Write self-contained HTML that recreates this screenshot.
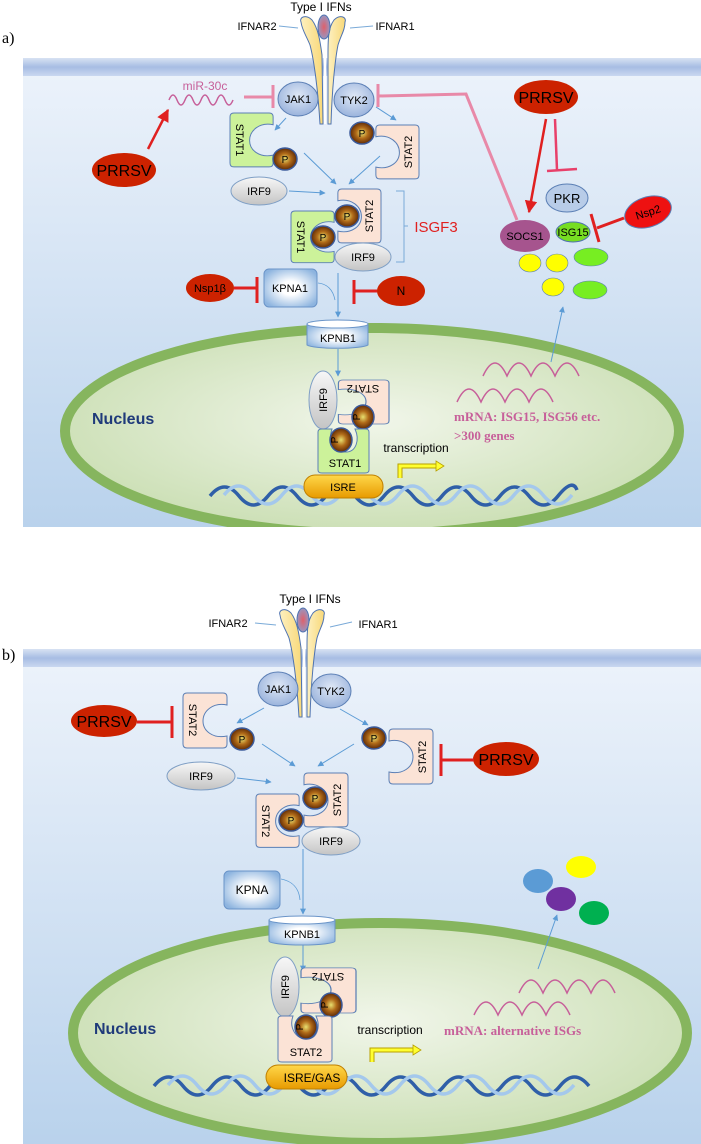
<!DOCTYPE html>
<html><head><meta charset="utf-8"><style>
html,body{margin:0;padding:0;background:#fff}
svg{display:block}
text{font-family:"Liberation Sans",sans-serif}
</style></head><body>
<svg width="701" height="1144" viewBox="0 0 701 1144" xmlns="http://www.w3.org/2000/svg">
<defs>
<linearGradient id="cell" x1="0" y1="0" x2="0" y2="1"><stop offset="0" stop-color="#edf3fb"/><stop offset="1" stop-color="#b9d2ec"/></linearGradient>
<linearGradient id="mem" x1="0" y1="0" x2="0" y2="1"><stop offset="0" stop-color="#d8e2f3"/><stop offset="0.5" stop-color="#a7bde3"/><stop offset="1" stop-color="#c9d8f0"/></linearGradient>
<radialGradient id="nuc" cx="0.5" cy="0.45" r="0.6"><stop offset="0" stop-color="#f1f6ea"/><stop offset="1" stop-color="#c8ddb0"/></radialGradient>
<radialGradient id="pg" cx="0.5" cy="0.5" r="0.5"><stop offset="0" stop-color="#e8e070"/><stop offset="0.5" stop-color="#b06a18"/><stop offset="1" stop-color="#5e2a06"/></radialGradient>
<radialGradient id="jak" cx="0.5" cy="0.4" r="0.6"><stop offset="0" stop-color="#dfe8f6"/><stop offset="1" stop-color="#9ab3dc"/></radialGradient>
<linearGradient id="irf" x1="0" y1="0" x2="0" y2="1"><stop offset="0" stop-color="#f7f7f7"/><stop offset="1" stop-color="#c4c4c4"/></linearGradient>
<radialGradient id="kp" cx="0.5" cy="0.5" r="0.6"><stop offset="0.3" stop-color="#fff"/><stop offset="1" stop-color="#8db4df"/></radialGradient>
<linearGradient id="isre" x1="0" y1="0" x2="0" y2="1"><stop offset="0" stop-color="#ffd84a"/><stop offset="1" stop-color="#e89a00"/></linearGradient>
<linearGradient id="rec" x1="0" y1="0" x2="1" y2="0"><stop offset="0" stop-color="#fdf0c0"/><stop offset="1" stop-color="#f8d878"/></linearGradient>
<radialGradient id="ifn" cx="0.5" cy="0.5" r="0.6"><stop offset="0" stop-color="#e0606a"/><stop offset="1" stop-color="#8aa0d0"/></radialGradient>
<marker id="ab" viewBox="0 0 10 10" refX="9" refY="5" markerWidth="6" markerHeight="6" orient="auto"><path d="M0,0L10,5L0,10z" fill="#5b9bd5"/></marker>
<marker id="ar" viewBox="0 0 10 10" refX="9" refY="5" markerWidth="5" markerHeight="5" orient="auto"><path d="M0,0L10,5L0,10z" fill="#e02020"/></marker>
<path id="stat" d="M0,4Q0,0 4,0H40Q44,0 44,4V12C30,9 20,18 20,28C20,38 30,46 44,43V51Q44,55 40,55H4Q0,55 0,51Z"/>
</defs>

<!-- ===== PANEL A ===== -->
<text x="2" y="43" font-size="16" style="font-family:'Liberation Serif',serif">a)</text>
<rect x="23" y="58" width="678" height="469" fill="url(#cell)"/>
<rect x="23" y="58" width="678" height="18" fill="url(#mem)"/>
<ellipse cx="372" cy="431" rx="307" ry="103" fill="url(#nuc)" stroke="#86b55e" stroke-width="10"/>
<rect x="23" y="527" width="678" height="40" fill="#fff"/>

<g>
<path d="M301,22C299,17 306,14 312,20C318,28 320,40 322,55L323,124L320,124C318,90 314,60 310,45C306,35 302,30 301,22Z" fill="url(#rec)" stroke="#4f73b0" stroke-width="1"/>
<path d="M345,22C347,17 340,14 334,20C328,28 328,40 328,55L328,124L331,124C332,90 335,60 338,45C341,35 345,30 345,22Z" fill="url(#rec)" stroke="#4f73b0" stroke-width="1"/>
<ellipse cx="324" cy="27" rx="6" ry="12" fill="url(#ifn)" stroke="#4f73b0"/>
<line x1="325" y1="40" x2="325" y2="124" stroke="#fff" stroke-width="2"/>
</g>
<text x="321" y="11" font-size="12" text-anchor="middle">Type I IFNs</text>
<text x="257" y="30" font-size="11" text-anchor="middle">IFNAR2</text>
<text x="395" y="30" font-size="11" text-anchor="middle">IFNAR1</text>
<line x1="279" y1="26" x2="298" y2="28" stroke="#7aaad8"/>
<line x1="350" y1="28" x2="373" y2="26" stroke="#7aaad8"/>

<ellipse cx="298" cy="99" rx="20" ry="17" fill="url(#jak)" stroke="#5b7fb5"/>
<text x="298" y="103" font-size="11" text-anchor="middle">JAK1</text>
<ellipse cx="354" cy="100" rx="20" ry="17" fill="url(#jak)" stroke="#5b7fb5"/>
<text x="354" y="104" font-size="11" text-anchor="middle">TYK2</text>

<text x="205" y="90" font-size="12" fill="#c7609a" text-anchor="middle">miR-30c</text>
<path d="M169,100q4,-10 8,0t8,0t8,0t8,0t8,0t8,0t8,0t8,0" fill="none" stroke="#c7609a" stroke-width="1.5"/>
<line x1="244" y1="97" x2="272" y2="97" stroke="#e889a8" stroke-width="3"/>
<line x1="273" y1="85" x2="273" y2="108" stroke="#e889a8" stroke-width="3"/>
<polyline points="517,220 466,94 379,96" fill="none" stroke="#e889a8" stroke-width="3"/>
<line x1="378" y1="84" x2="378" y2="107" stroke="#e889a8" stroke-width="3"/>

<ellipse cx="124" cy="170" rx="32" ry="17" fill="#cc2200"/>
<text x="124" y="176" font-size="16" text-anchor="middle">PRRSV</text>
<line x1="148" y1="149" x2="168" y2="110" stroke="#e02020" stroke-width="2.5" marker-end="url(#ar)"/>

<use href="#stat" transform="translate(230,113) scale(0.98,0.98)" fill="#ccf29a" stroke="#5b7fb5"/>
<text transform="translate(236,140) rotate(90)" font-size="11" text-anchor="middle">STAT1</text>
<ellipse cx="285" cy="159" rx="12" ry="11" fill="url(#pg)" stroke="#3b5a9a" stroke-width="1.5"/><text x="285" y="163" font-size="10" text-anchor="middle">P</text>
<use href="#stat" transform="translate(419,125) scale(-0.98,0.98)" fill="#fbe3d6" stroke="#5b7fb5"/>
<text transform="translate(412,152) rotate(-90)" font-size="11" text-anchor="middle">STAT2</text>
<ellipse cx="362" cy="133" rx="12" ry="11" fill="url(#pg)" stroke="#3b5a9a" stroke-width="1.5"/><text x="362" y="137" font-size="10" text-anchor="middle">P</text>

<g stroke="#5b9bd5" stroke-width="1" marker-end="url(#ab)">
<line x1="286" y1="118" x2="275" y2="130"/>
<line x1="376" y1="107" x2="396" y2="120"/>
<line x1="304" y1="153" x2="336" y2="184"/>
<line x1="380" y1="156" x2="349" y2="184"/>
<line x1="289" y1="191" x2="325" y2="193"/>
<line x1="338" y1="273" x2="338" y2="317"/>
<line x1="338" y1="349" x2="338" y2="376"/>
<line x1="551" y1="362" x2="563" y2="307"/>
</g>
<path d="M318,283C328,284 333,290 335,300" fill="none" stroke="#5b9bd5" stroke-width="0.8"/>

<ellipse cx="259" cy="191" rx="28" ry="14" fill="url(#irf)" stroke="#7f9fc5"/>
<text x="259" y="195" font-size="11" text-anchor="middle">IRF9</text>

<use href="#stat" transform="translate(381,189) scale(-0.98,0.98)" fill="#fbe3d6" stroke="#5b7fb5"/>
<text transform="translate(373,216) rotate(-90)" font-size="11" text-anchor="middle">STAT2</text>
<use href="#stat" transform="translate(291,211) scale(0.98,0.94)" fill="#ccf29a" stroke="#5b7fb5"/>
<text transform="translate(297,237) rotate(90)" font-size="11" text-anchor="middle">STAT1</text>
<ellipse cx="347" cy="216" rx="12" ry="11" fill="url(#pg)" stroke="#3b5a9a" stroke-width="1.5"/><text x="347" y="220" font-size="10" text-anchor="middle">P</text>
<ellipse cx="323" cy="237" rx="12" ry="11" fill="url(#pg)" stroke="#3b5a9a" stroke-width="1.5"/><text x="323" y="241" font-size="10" text-anchor="middle">P</text>
<ellipse cx="363" cy="257" rx="28" ry="14" fill="url(#irf)" stroke="#7f9fc5"/>
<text x="363" y="261" font-size="11" text-anchor="middle">IRF9</text>
<path d="M396,191H404V262H396M404,226H408" fill="none" stroke="#7aaad8"/>
<text x="436" y="232" font-size="15" fill="#e02020" text-anchor="middle">ISGF3</text>

<rect x="264" y="269" width="53" height="38" rx="5" fill="url(#kp)" stroke="#6a94c8"/>
<text x="290" y="292" font-size="11" text-anchor="middle">KPNA1</text>
<ellipse cx="210" cy="288" rx="24" ry="14" fill="#cc2200"/>
<text x="210" y="292" font-size="11" text-anchor="middle">Nsp1β</text>
<line x1="234" y1="288" x2="257" y2="288" stroke="#e02020" stroke-width="3"/>
<line x1="257" y1="277" x2="257" y2="303" stroke="#e02020" stroke-width="3"/>
<ellipse cx="401" cy="291" rx="24" ry="15" fill="#cc2200"/>
<text x="401" y="295" font-size="12" text-anchor="middle">N</text>
<line x1="354" y1="291" x2="377" y2="291" stroke="#e02020" stroke-width="3"/>
<line x1="354" y1="280" x2="354" y2="304" stroke="#e02020" stroke-width="3"/>

<path d="M307,324V345A31,4 0 0 0 368,345V324" fill="url(#kp)" stroke="#6a94c8"/>
<ellipse cx="337.5" cy="324" rx="30.5" ry="4" fill="#fff" stroke="#6a94c8"/>
<text x="338" y="342" font-size="11" text-anchor="middle">KPNB1</text>

<ellipse cx="323" cy="400" rx="14" ry="29" fill="url(#irf)" stroke="#7f9fc5"/>
<text transform="translate(327,400) rotate(-90)" font-size="11" text-anchor="middle">IRF9</text>
<use href="#stat" transform="translate(389,424) rotate(180) scale(1.15,0.8)" fill="#fbe3d6" stroke="#5b7fb5"/>
<text transform="translate(363,385) rotate(180)" font-size="11" text-anchor="middle">STAT2</text>
<ellipse cx="363" cy="417" rx="11" ry="12" fill="url(#pg)" stroke="#3b5a9a" stroke-width="1.5"/><text transform="translate(360,417) rotate(-90)" font-size="10" text-anchor="middle">P</text>
<path d="M318,432Q318,429 322,429H332C328,440 334,452 346,452C356,452 360,440 355,429H365Q369,429 369,432V470Q369,473 365,473H322Q318,473 318,470Z" fill="#ccf29a" stroke="#5b7fb5"/>
<ellipse cx="341" cy="440" rx="11" ry="12" fill="url(#pg)" stroke="#3b5a9a" stroke-width="1.5"/><text transform="translate(338,440) rotate(-90)" font-size="10" text-anchor="middle">P</text>
<text x="345" y="467" font-size="11" text-anchor="middle">STAT1</text>

<path d="M210,496q14.5,-18 29,0t29,0t29,0t29,0t29,0t29,0t29,0t29,0t29,0t29,0t29,0t29,0t19,-6" fill="none" stroke="#2f5fa8" stroke-width="3.5"/>
<path d="M224,495q14.5,-18 29,0t29,0t29,0t29,0t29,0t29,0t29,0t29,0t29,0t29,0t29,0t29,0" fill="none" stroke="#a4c8ec" stroke-width="3.5"/>
<rect x="304" y="475" width="79" height="23" rx="11" fill="url(#isre)" stroke="#c08000"/>
<text x="343" y="491" font-size="11" text-anchor="middle">ISRE</text>
<text x="416" y="452" font-size="12" text-anchor="middle">transcription</text>
<path d="M400,478V466H436" fill="none" stroke="#b8a000" stroke-width="5"/>
<path d="M400,478V466H436" fill="none" stroke="#ffff30" stroke-width="3"/>
<path d="M436,461L444,466L436,471Z" fill="#ffff30" stroke="#b8a000" stroke-width="0.8"/>

<path d="M483,376q12,-26 24,0q12,-26 24,0q12,-26 24,0q12,-26 24,0" fill="none" stroke="#c7609a" stroke-width="1.5"/>
<path d="M457,402q12,-26 24,0q12,-26 24,0q12,-26 24,0q12,-26 24,0" fill="none" stroke="#c7609a" stroke-width="1.5"/>
<text x="454" y="421" font-size="13" font-weight="bold" fill="#c7609a" style="font-family:'Liberation Serif',serif">mRNA: ISG15, ISG56 etc.</text>
<text x="454" y="440" font-size="13" font-weight="bold" fill="#c7609a" style="font-family:'Liberation Serif',serif">&gt;300 genes</text>
<text x="92" y="424" font-size="16" font-weight="bold" fill="#1f3a7a">Nucleus</text>

<ellipse cx="546" cy="97" rx="32" ry="17" fill="#cc2200"/>
<text x="546" y="103" font-size="16" text-anchor="middle">PRRSV</text>
<line x1="546" y1="119" x2="529" y2="212" stroke="#e02020" stroke-width="2.5" marker-end="url(#ar)"/>
<line x1="555" y1="119" x2="557" y2="170" stroke="#e8406a" stroke-width="2.5"/>
<line x1="547" y1="171" x2="577" y2="169" stroke="#e8406a" stroke-width="2.5"/>
<ellipse cx="567" cy="198" rx="21" ry="14" fill="#b8cce8" stroke="#5b7fb5"/>
<text x="567" y="203" font-size="13" text-anchor="middle">PKR</text>
<ellipse cx="525" cy="236" rx="25" ry="16" fill="#a6548e"/>
<text x="525" y="240" font-size="11" text-anchor="middle">SOCS1</text>
<ellipse cx="573" cy="232" rx="17" ry="10" fill="#77dd22" stroke="#4f73b0"/>
<text x="573" y="236" font-size="11" text-anchor="middle">ISG15</text>
<ellipse cx="648" cy="212" rx="24" ry="15" fill="#ee1111" stroke="#5b7fb5" transform="rotate(-18 648 212)"/>
<text x="648" y="216" font-size="11" text-anchor="middle" transform="rotate(-18 648 212)">Nsp2</text>
<line x1="624" y1="218" x2="597" y2="228" stroke="#e02020" stroke-width="3"/>
<line x1="591" y1="214" x2="599" y2="242" stroke="#e02020" stroke-width="3"/>
<g fill="#ffff00" stroke="#5b7fb5" stroke-width="0.6">
<ellipse cx="530" cy="263" rx="11" ry="9"/><ellipse cx="557" cy="263" rx="11" ry="9"/><ellipse cx="553" cy="287" rx="11" ry="9"/>
</g>
<g fill="#77ee22" stroke="#5b7fb5" stroke-width="0.6">
<ellipse cx="591" cy="257" rx="17" ry="9"/><ellipse cx="590" cy="290" rx="17" ry="9"/>
</g>

<!-- ===== PANEL B ===== -->
<text x="2" y="660" font-size="16" style="font-family:'Liberation Serif',serif">b)</text>
<rect x="23" y="649" width="678" height="495" fill="url(#cell)"/>
<rect x="23" y="649" width="678" height="18" fill="url(#mem)"/>
<ellipse cx="380" cy="1033" rx="307" ry="110" fill="url(#nuc)" stroke="#86b55e" stroke-width="10"/>

<g transform="translate(-21,593)">
<path d="M301,22C299,17 306,14 312,20C318,28 320,40 322,55L323,124L320,124C318,90 314,60 310,45C306,35 302,30 301,22Z" fill="url(#rec)" stroke="#4f73b0" stroke-width="1"/>
<path d="M345,22C347,17 340,14 334,20C328,28 328,40 328,55L328,124L331,124C332,90 335,60 338,45C341,35 345,30 345,22Z" fill="url(#rec)" stroke="#4f73b0" stroke-width="1"/>
<ellipse cx="324" cy="27" rx="6" ry="12" fill="url(#ifn)" stroke="#4f73b0"/>
<line x1="325" y1="40" x2="325" y2="124" stroke="#fff" stroke-width="2"/>
</g>
<text x="310" y="603" font-size="12" text-anchor="middle">Type I IFNs</text>
<text x="228" y="627" font-size="11" text-anchor="middle">IFNAR2</text>
<text x="378" y="628" font-size="11" text-anchor="middle">IFNAR1</text>
<line x1="255" y1="623" x2="276" y2="625" stroke="#7aaad8"/>
<line x1="330" y1="627" x2="352" y2="622" stroke="#7aaad8"/>

<ellipse cx="278" cy="689" rx="20" ry="17" fill="url(#jak)" stroke="#5b7fb5"/>
<text x="278" y="693" font-size="11" text-anchor="middle">JAK1</text>
<ellipse cx="331" cy="691" rx="20" ry="17" fill="url(#jak)" stroke="#5b7fb5"/>
<text x="331" y="695" font-size="11" text-anchor="middle">TYK2</text>

<use href="#stat" transform="translate(183,693)" fill="#fbe3d6" stroke="#5b7fb5"/>
<text transform="translate(189,720) rotate(90)" font-size="11" text-anchor="middle">STAT2</text>
<ellipse cx="242" cy="739" rx="12" ry="11" fill="url(#pg)" stroke="#3b5a9a" stroke-width="1.5"/><text x="242" y="743" font-size="10" text-anchor="middle">P</text>
<ellipse cx="104" cy="721" rx="33" ry="16" fill="#cc2200"/>
<text x="104" y="727" font-size="16" text-anchor="middle">PRRSV</text>
<line x1="137" y1="722" x2="172" y2="722" stroke="#e02020" stroke-width="3"/>
<line x1="172" y1="706" x2="172" y2="738" stroke="#e02020" stroke-width="3"/>

<use href="#stat" transform="translate(433,729) scale(-1,1)" fill="#fbe3d6" stroke="#5b7fb5"/>
<text transform="translate(426,757) rotate(-90)" font-size="11" text-anchor="middle">STAT2</text>
<ellipse cx="374" cy="738" rx="12" ry="11" fill="url(#pg)" stroke="#3b5a9a" stroke-width="1.5"/><text x="374" y="742" font-size="10" text-anchor="middle">P</text>
<ellipse cx="506" cy="759" rx="33" ry="17" fill="#cc2200"/>
<text x="506" y="765" font-size="16" text-anchor="middle">PRRSV</text>
<line x1="441" y1="760" x2="474" y2="760" stroke="#e02020" stroke-width="3"/>
<line x1="441" y1="744" x2="441" y2="776" stroke="#e02020" stroke-width="3"/>

<g stroke="#5b9bd5" stroke-width="1" marker-end="url(#ab)">
<line x1="264" y1="708" x2="237" y2="723"/>
<line x1="340" y1="709" x2="368" y2="725"/>
<line x1="262" y1="744" x2="295" y2="766"/>
<line x1="354" y1="744" x2="318" y2="766"/>
<line x1="237" y1="778" x2="271" y2="782"/>
<line x1="303" y1="849" x2="303" y2="914"/>
<line x1="303" y1="945" x2="303" y2="971"/>
<line x1="538" y1="969" x2="557" y2="915"/>
</g>
<path d="M281,879C292,881 299,888 300,900" fill="none" stroke="#5b9bd5" stroke-width="0.8"/>

<ellipse cx="201" cy="776" rx="34" ry="14" fill="url(#irf)" stroke="#7f9fc5"/>
<text x="201" y="780" font-size="11" text-anchor="middle">IRF9</text>

<use href="#stat" transform="translate(348,773) scale(-1,0.98)" fill="#fbe3d6" stroke="#5b7fb5"/>
<text transform="translate(341,800) rotate(-90)" font-size="11" text-anchor="middle">STAT2</text>
<use href="#stat" transform="translate(256,794) scale(0.98,0.97)" fill="#fbe3d6" stroke="#5b7fb5"/>
<text transform="translate(262,821) rotate(90)" font-size="11" text-anchor="middle">STAT2</text>
<ellipse cx="315" cy="798" rx="12" ry="11" fill="url(#pg)" stroke="#3b5a9a" stroke-width="1.5"/><text x="315" y="802" font-size="10" text-anchor="middle">P</text>
<ellipse cx="291" cy="820" rx="12" ry="11" fill="url(#pg)" stroke="#3b5a9a" stroke-width="1.5"/><text x="291" y="824" font-size="10" text-anchor="middle">P</text>
<ellipse cx="331" cy="841" rx="29" ry="14" fill="url(#irf)" stroke="#7f9fc5"/>
<text x="331" y="845" font-size="11" text-anchor="middle">IRF9</text>

<rect x="224" y="871" width="56" height="38" rx="5" fill="url(#kp)" stroke="#6a94c8"/>
<text x="252" y="894" font-size="12" text-anchor="middle">KPNA</text>

<path d="M269,920V941A33,4 0 0 0 335,941V920" fill="url(#kp)" stroke="#6a94c8"/>
<ellipse cx="302" cy="920" rx="33" ry="4" fill="#fff" stroke="#6a94c8"/>
<text x="302" y="938" font-size="11" text-anchor="middle">KPNB1</text>

<ellipse cx="285" cy="987" rx="14" ry="30" fill="url(#irf)" stroke="#7f9fc5"/>
<text transform="translate(289,987) rotate(-90)" font-size="11" text-anchor="middle">IRF9</text>
<use href="#stat" transform="translate(356,1013) rotate(180) scale(1.25,0.82)" fill="#fbe3d6" stroke="#5b7fb5"/>
<text transform="translate(328,973) rotate(180)" font-size="11" text-anchor="middle">STAT2</text>
<ellipse cx="331" cy="1005" rx="11" ry="12" fill="url(#pg)" stroke="#3b5a9a" stroke-width="1.5"/><text transform="translate(328,1005) rotate(-90)" font-size="10" text-anchor="middle">P</text>
<path d="M278,1019Q278,1016 282,1016H293C289,1027 295,1039 307,1039C317,1039 321,1027 316,1016H328Q332,1016 332,1019V1059Q332,1062 328,1062H282Q278,1062 278,1059Z" fill="#fbe3d6" stroke="#5b7fb5"/>
<ellipse cx="306" cy="1027" rx="11" ry="12" fill="url(#pg)" stroke="#3b5a9a" stroke-width="1.5"/><text transform="translate(303,1027) rotate(-90)" font-size="10" text-anchor="middle">P</text>
<text x="306" y="1056" font-size="11" text-anchor="middle">STAT2</text>

<path d="M154,1086q14.5,-18 29,0t29,0t29,0t29,0t29,0t29,0t29,0t29,0t29,0t29,0t29,0t29,0t29,0t29,0t29,0" fill="none" stroke="#2f5fa8" stroke-width="3.5"/>
<path d="M168,1085q14.5,-18 29,0t29,0t29,0t29,0t29,0t29,0t29,0t29,0t29,0t29,0t29,0t29,0t29,0t29,0" fill="none" stroke="#a4c8ec" stroke-width="3.5"/>
<rect x="266" y="1065" width="81" height="24" rx="12" fill="url(#isre)" stroke="#c08000"/>
<text x="312" y="1082" font-size="12" text-anchor="middle">ISRE/GAS</text>
<text x="390" y="1034" font-size="12" text-anchor="middle">transcription</text>
<path d="M372,1062V1050H413" fill="none" stroke="#b8a000" stroke-width="5"/>
<path d="M372,1062V1050H413" fill="none" stroke="#ffff30" stroke-width="3"/>
<path d="M413,1045L421,1050L413,1055Z" fill="#ffff30" stroke="#b8a000" stroke-width="0.8"/>

<path d="M519,993q12,-26 24,0q12,-26 24,0q12,-26 24,0q12,-26 24,0" fill="none" stroke="#c7609a" stroke-width="1.5"/>
<path d="M474,1015q12,-26 24,0q12,-26 24,0q12,-26 24,0q12,-26 24,0" fill="none" stroke="#c7609a" stroke-width="1.5"/>
<text x="444" y="1035" font-size="13" font-weight="bold" fill="#c7609a" style="font-family:'Liberation Serif',serif">mRNA: alternative ISGs</text>
<text x="94" y="1034" font-size="16" font-weight="bold" fill="#1f3a7a">Nucleus</text>

<ellipse cx="538" cy="881" rx="15" ry="12" fill="#5b9bd5"/>
<ellipse cx="581" cy="867" rx="15" ry="11" fill="#ffff00"/>
<ellipse cx="561" cy="899" rx="15" ry="12" fill="#7030a0"/>
<ellipse cx="594" cy="913" rx="15" ry="12" fill="#00b050"/>
</svg>
</body></html>
